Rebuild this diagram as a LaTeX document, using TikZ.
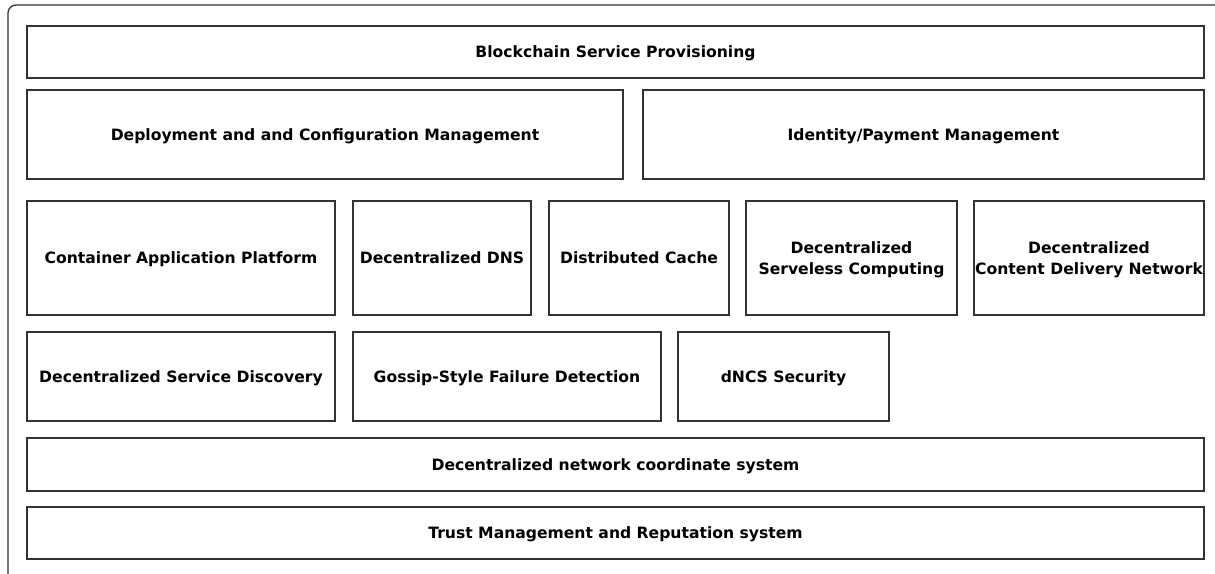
\documentclass[tikz,border=0pt]{standalone}
\usepackage{fontspec}
\setmainfont{DejaVu Sans}
\begin{document}
\begin{tikzpicture}[x=1pt,y=-1pt,
  blk/.style={draw=black!80,line width=1.3pt,fill=white,inner sep=0pt,align=center,text depth=0pt,
    font=\fontsize{15.6}{20.5}\selectfont\bfseries}]
\useasboundingbox (0,0) rectangle (1215,573);
\begin{scope}
\clip (0,0) rectangle (1215,573);
\draw[black!80,line width=1.3pt,rounded corners=8pt] (8,5) rectangle (1240,600);
\end{scope}
\newcommand\bx[6]{\node[blk,minimum width={#4-#2},minimum height={#5-#3}] (#1) at ({(#2+#4)/2},{(#3+#5)/2}) {#6};}
\bx{bsp}{27}{26}{1204}{78}{Blockchain Service Provisioning}
\bx{dcm}{27}{90}{623}{179}{Deployment and and Configuration Management}
\bx{ipm}{643}{90}{1204}{179}{Identity/Payment Management}
\bx{cap}{27}{201}{335}{315}{Container Application Platform}
\bx{dns}{353}{201}{531}{315}{Decentralized DNS}
\bx{dc}{549}{201}{729}{315}{Distributed Cache}
\bx{dsc}{746}{201}{957}{315}{Decentralized\\Serveless Computing}
\bx{cdn}{974}{201}{1204}{315}{Decentralized\\Content Delivery Network}
\bx{dsd}{27}{332}{335}{421}{Decentralized Service Discovery}
\bx{gsf}{353}{332}{661}{421}{Gossip-Style Failure Detection}
\bx{sec}{678}{332}{889}{421}{dNCS Security}
\bx{ncs}{27}{438}{1204}{491}{Decentralized network coordinate system}
\bx{tmr}{27}{507}{1204}{559}{Trust Management and Reputation system}
\end{tikzpicture}
\end{document}
